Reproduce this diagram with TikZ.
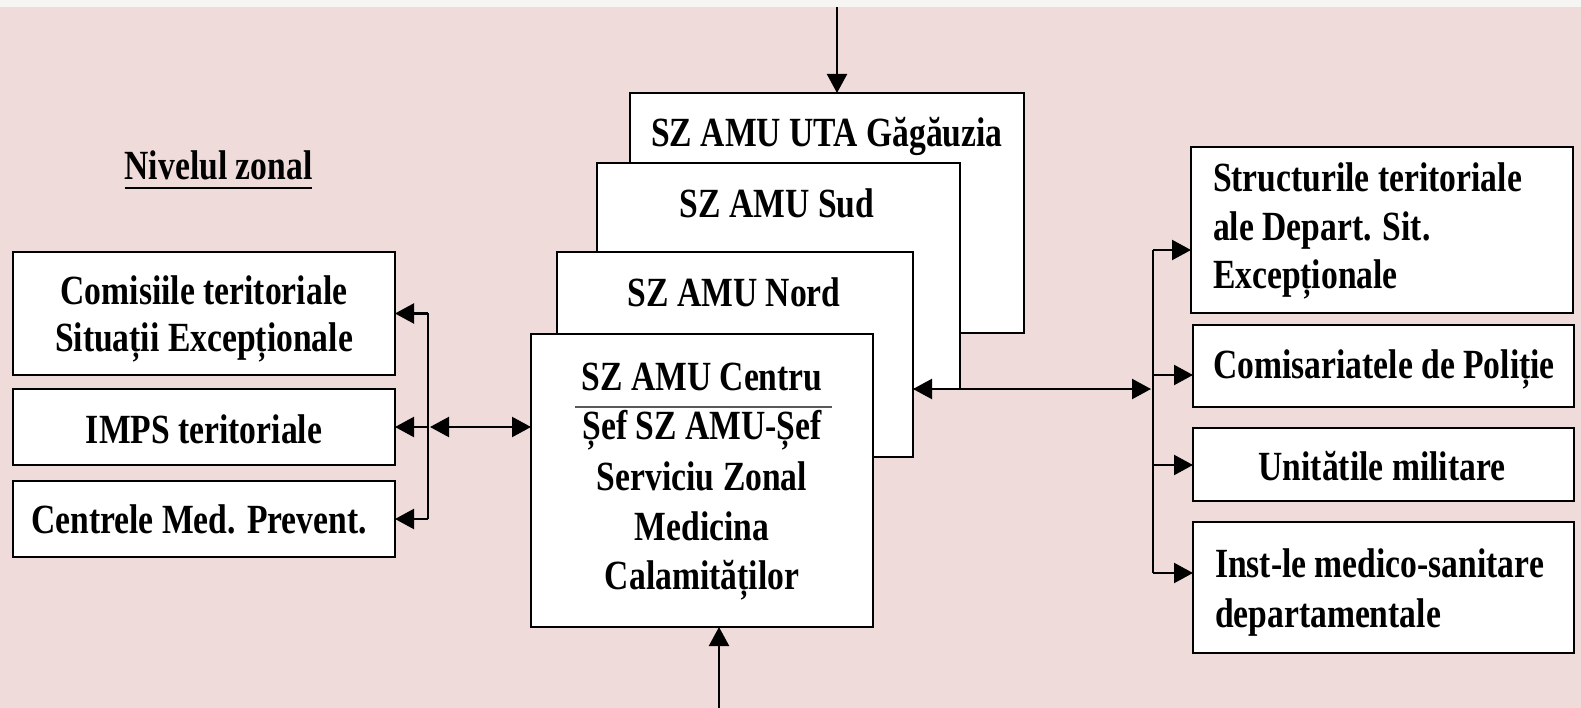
\documentclass[tikz,border=0pt]{standalone}
\usepackage{fontspec}
\setmainfont[FakeStretch=0.81]{Liberation Serif}
\usetikzlibrary{arrows.meta}
\definecolor{bgpink}{RGB}{240,219,219}
\definecolor{topband}{RGB}{247,244,244}
\begin{document}
\begin{tikzpicture}[x=1pt,y=-1pt,
  box/.style={draw=black, line width=2.2pt, fill=white, rectangle, inner sep=0pt, outer sep=0pt, anchor=north west},
  lbl/.style={anchor=base, inner sep=0pt, outer sep=0pt, font=\fontsize{41.5}{48}\selectfont\bfseries},
  lbll/.style={lbl, anchor=base west},
  conn/.style={line width=2.2pt, draw=black},
  arr/.style={conn, -{Triangle[length=19pt,width=20pt]}},
  darr/.style={conn, {Triangle[length=19pt,width=20pt]}-{Triangle[length=19pt,width=20pt]}}
]
\useasboundingbox (0,0) rectangle (1581,708);
\fill[bgpink] (0,0) rectangle (1581,708);
\fill[topband] (0,0) rectangle (1581,7);

% title
\node[lbl] (niv) at (218.5,180) {Nivelul zonal};
\draw[line width=2.2pt] ([yshift=-8pt]niv.base west) -- ([yshift=-8pt]niv.base east);

% left boxes
\node[box, minimum width=382pt, minimum height=123pt] (com) at (13,252) {};
\node[box, minimum width=382pt, minimum height=76pt] (imps) at (13,389) {};
\node[box, minimum width=382pt, minimum height=76pt] (cen) at (13,481) {};
\node[lbl] (comA) at (204,305) {Comisiile teritoriale};
\node[lbl] (comB) at (204,352) {Situații Excepționale};
\node[lbl] (impsT) at (204,443) {IMPS teritoriale};
\node[lbl] (cenT) at (199,533) {Centrele Med. Prevent.};

% stacked central boxes
\node[box, minimum width=394pt, minimum height=240pt] (gag) at (630,93) {};
\node[lbl] (gagT) at (827,147) {SZ AMU UTA Găgăuzia};
\node[box, minimum width=363pt, minimum height=226pt] (sud) at (597,163) {};
\node[lbl] (sudT) at (777,218) {SZ AMU Sud};
\node[box, minimum width=356pt, minimum height=205pt] (nord) at (557,252) {};
\node[lbl] (nordT) at (734,307) {SZ AMU Nord};
\node[box, minimum width=342pt, minimum height=293pt] (centru) at (531,334) {};
\node[lbl] (cA) at (702,390) {SZ AMU Centru};
\draw[line width=2.5pt, draw=black!65] (575,407) -- (832,407);
\node[lbl] (cB) at (702,439) {Șef SZ AMU-Șef};
\node[lbl] (cC) at (702,490) {Serviciu Zonal};
\node[lbl] (cD) at (702,540) {Medicina};
\node[lbl] (cE) at (702,589) {Calamităților};

% right boxes
\node[box, minimum width=382pt, minimum height=166pt] (str) at (1191,147) {};
\node[lbll] (strA) at (1213,192) {Structurile teritoriale};
\node[lbll] (strB) at (1213,241) {ale Depart. Sit.};
\node[lbll] (strC) at (1213,289) {Excepționale};
\node[box, minimum width=381pt, minimum height=82pt] (pol) at (1193,325) {};
\node[lbl] (polT) at (1384,378) {Comisariatele de Poliție};
\node[box, minimum width=381pt, minimum height=73pt] (unit) at (1193,428) {};
\node[lbl] (unitT) at (1382,480) {Unitătile militare};
\node[box, minimum width=381pt, minimum height=131pt] (inst) at (1193,522) {};
\node[lbll] (instA) at (1215,577) {Inst-le medico-sanitare};
\node[lbll] (instB) at (1215,627) {departamentale};

% top and bottom arrows
\coordinate (topin) at (837,7);
\draw[arr] (topin) -- (topin |- gag.north);
\coordinate (botin) at (719,708);
\draw[arr] (botin) -- (botin |- centru.south);

% left bracket
\coordinate (lbt) at (428,0 |- com.east);
\coordinate (lbm) at (428,0 |- imps.east);
\coordinate (lbb) at (428,0 |- cen.east);
\draw[conn] (lbt) -- (lbb);
\draw[arr] (lbt) -- (com.east);
\draw[arr] (lbm) -- (imps.east);
\draw[arr] (lbb) -- (cen.east);
\draw[darr] ([xshift=2pt]lbm) -- (lbm -| centru.west);

% right bracket
\coordinate (rbt) at (1153,250);
\coordinate (rb2) at (1153,375);
\coordinate (rb3) at (1153,465);
\coordinate (rbb) at (1153,573);
\coordinate (rbm) at (1151,389);
\draw[conn] (rbt) -- (rbb);
\draw[arr] (rbt) -- (rbt -| str.west);
\draw[arr] (rb2) -- (rb2 -| pol.west);
\draw[arr] (rb3) -- (rb3 -| unit.west);
\draw[arr] (rbb) -- (rbb -| inst.west);
\draw[darr] (rbm -| nord.east) -- (rbm);
\end{tikzpicture}
\end{document}
